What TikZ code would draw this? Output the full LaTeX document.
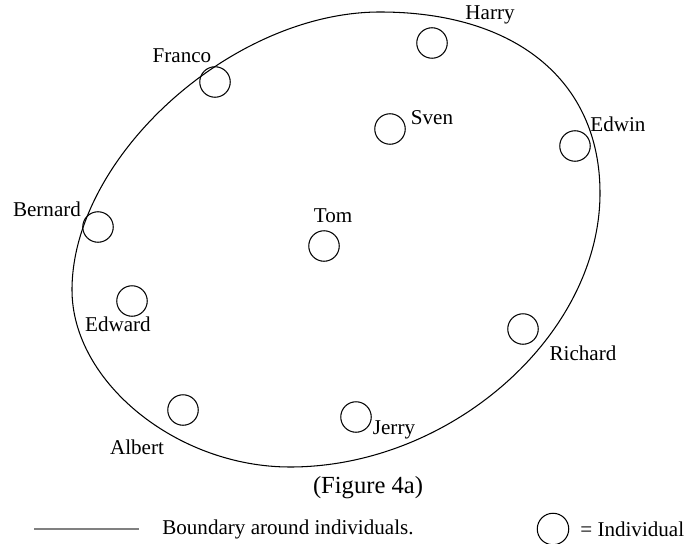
\documentclass[tikz,border=0pt]{standalone}
\usepackage{fontspec}
\setmainfont{Liberation Serif}
\begin{document}
\begin{tikzpicture}
    [
    x=0.02cm,y=-0.02cm,
    person/.style={circle,draw,line width=0.6pt,inner sep=0pt,minimum size=0.61cm},
    tag/.style={font=\fontsize{12}{14}\selectfont,inner sep=1pt},
    ]
    \useasboundingbox (0,0) rectangle (686,544);
    % boundary
    \draw [line width=0.6pt] (380,12) .. controls (516,12) and (600,81) .. (600,193)
      .. controls (600,335) and (451,467) .. (290,467)
      .. controls (177,467) and (72,382) .. (72,290)
      .. controls (72,157) and (232,12) .. (380,12) -- cycle;
    % individuals
    \node (franco) at (215,82) [person] {};
    \node (bernard) at (98,227) [person] {};
    \node (tom) at (324,246) [person] {};
    \node (harry) at (432,43) [person] {};
    \node (sven) at (390,129) [person] {};
    \node (edwin) at (575,146) [person] {};
    \node (edward) at (132,301) [person] {};
    \node (albert) at (183,410) [person] {};
    \node (jerry) at (356,417) [person] {};
    \node (richard) at (523,329) [person] {};
    \node (franco-n) at (182,56) [tag] {Franco};
    \node (bernard-n) at (47,209) [tag] {Bernard};
    \node (tom-n) at (333,216) [tag] {Tom};
    \node (harry-n) at (490,15) [tag] {Harry};
    \node (sven-n) at (432,118) [tag] {Sven};
    \node (edwin-n) at (618,124) [tag] {Edwin};
    \node (edward-n) at (118,324) [tag] {Edward};
    \node (albert-n) at (137,447) [tag] {Albert};
    \node (jerry-n) at (394,430) [tag] {Jerry};
    \node (richard-n) at (583,353) [tag] {Richard};
    \node (caption) at (368,488) [font=\fontsize{14}{16}\selectfont,inner sep=1pt] {(Figure 4a)};
    % legend
    \coordinate (l1) at (34,529);
    \coordinate (l2) at (139,529);
    \draw [gray,line width=0.9pt] (l1) -- (l2);
    \node (boundary) at (162,529) [tag,anchor=west,inner sep=0pt] {Boundary around individuals.};
    \node (key) at (553,529) [person,minimum size=0.63cm] {};
    \node (key-n) at (580,529) [tag,anchor=west,inner sep=0pt] {= Individual};
  \end{tikzpicture}
\end{document}
